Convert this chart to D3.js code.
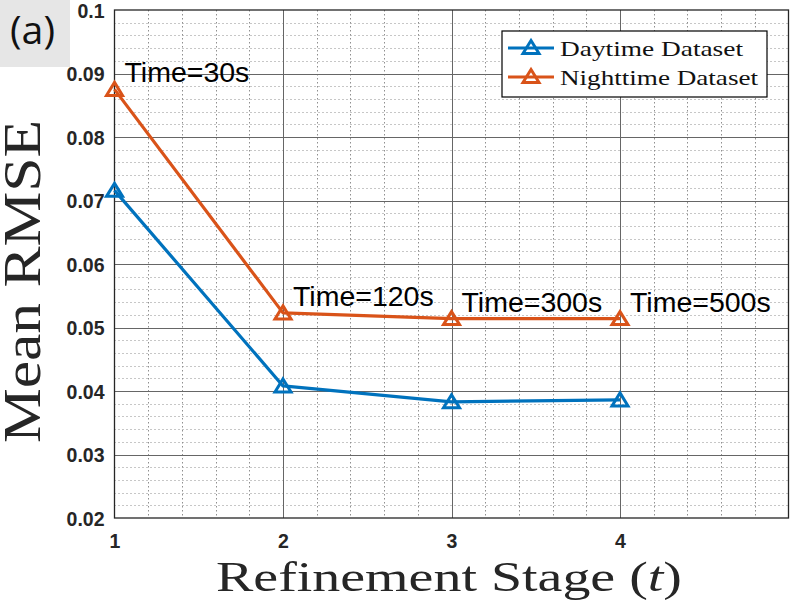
<!DOCTYPE html>
<html>
<head>
<meta charset="utf-8">
<script src="https://cdn.jsdelivr.net/npm/d3@7"></script>
<style>
  html, body { margin: 0; padding: 0; background: #fff; }
  svg { display: block; }
</style>
</head>
<body>
<svg id="chart" width="801" height="612"></svg>
<script>
// ---- data ----
const stages = [1, 2, 3, 4];
const daytime = [0.0716, 0.0408, 0.0383, 0.0386];
const nighttime = [0.0875, 0.0523, 0.0514, 0.0514];
const timeLabels = ["Time=30s", "Time=120s", "Time=300s", "Time=500s"];
const xTicks = [1, 2, 3, 4];
const yTicks = [0.02, 0.03, 0.04, 0.05, 0.06, 0.07, 0.08, 0.09, 0.1];
const seriesNames = ["Daytime Dataset", "Nighttime Dataset"];
const seriesColors = ["#0072BD", "#D95319"];

// ---- layout ----
const svg = d3.select("#chart");
const L = 114.5, R = 788.5, T = 10, B = 518;
const x = d3.scaleLinear().domain([1, 5]).range([L, R]);
const y = d3.scaleLinear().domain([0.02, 0.1]).range([B, T]);

// "(a)" panel tag
svg.append("rect").attr("x", 0).attr("y", 0).attr("width", 70).attr("height", 67).attr("fill", "#e6e6e6");
svg.append("text").attr("x", 32.5).attr("y", 44).attr("text-anchor", "middle")
  .attr("font-family", "Open Sans").attr("font-size", 38).attr("fill", "#111")
  .attr("textLength", 45).attr("lengthAdjust", "spacingAndGlyphs").text("(a)");

// plot background
svg.append("rect").attr("x", L).attr("y", T).attr("width", R - L).attr("height", B - T).attr("fill", "#fff");

// minor grid
const gGrid = svg.append("g");
const xMinor = d3.range(1, 5.0001, 0.2).filter(v => Math.abs(v - Math.round(v)) > 1e-6);
const yMinor = d3.range(0.02, 0.1001, 0.002).filter(v => Math.abs(v * 100 - Math.round(v * 100)) > 1e-6);
gGrid.selectAll(".xm").data(xMinor).join("line")
  .attr("x1", d => Math.round(x(d)) + 0.5).attr("x2", d => Math.round(x(d)) + 0.5)
  .attr("y1", T).attr("y2", B)
  .attr("stroke", "#8f8f8f").attr("stroke-width", 1).attr("stroke-dasharray", "1.5,2.5");
gGrid.selectAll(".ym").data(yMinor).join("line")
  .attr("y1", d => Math.round(y(d)) + 0.5).attr("y2", d => Math.round(y(d)) + 0.5)
  .attr("x1", L).attr("x2", R)
  .attr("stroke", "#8f8f8f").attr("stroke-width", 1).attr("stroke-dasharray", "1,3");

// major grid
const xMajor = [2, 3, 4];
gGrid.selectAll(".xM").data(xMajor).join("line")
  .attr("x1", d => Math.round(x(d)) + 0.5).attr("x2", d => Math.round(x(d)) + 0.5)
  .attr("y1", T).attr("y2", B)
  .attr("stroke", "#666").attr("stroke-width", 1);
gGrid.selectAll(".yM").data(yTicks.slice(1, -1)).join("line")
  .attr("y1", d => Math.round(y(d)) + 0.5).attr("y2", d => Math.round(y(d)) + 0.5)
  .attr("x1", L).attr("x2", R)
  .attr("stroke", "#666").attr("stroke-width", 1);

// axes box
svg.append("rect").attr("x", L).attr("y", T).attr("width", R - L).attr("height", B - T)
  .attr("fill", "none").attr("stroke", "#262626").attr("stroke-width", 1.3);

// axes via d3
const xAxis = d3.axisBottom(x).tickValues(xTicks).tickFormat(d3.format("d")).tickSize(0).tickPadding(16);
const yAxis = d3.axisLeft(y).tickValues(yTicks).tickFormat(d => d === 0.1 ? "0.1" : d3.format(".2f")(d)).tickSize(0).tickPadding(10);
const gx = svg.append("g").attr("transform", `translate(0,${B})`).call(xAxis);
const gy = svg.append("g").attr("transform", `translate(${L},0)`).call(yAxis);
[gx, gy].forEach(g => {
  g.select(".domain").remove();
  g.selectAll("text").attr("font-family", "Liberation Sans, Arial, sans-serif")
    .attr("font-weight", "bold").attr("font-size", 19.5).attr("fill", "#262626");
});
gx.selectAll("text").attr("dy", "0.71em");
gy.selectAll("text").attr("dy", "0.36em");

// series
const series = [daytime, nighttime];
const lineGen = d3.line().x((d, i) => x(stages[i])).y(d => y(d));
const tri = "M0,-7.5 L8,5.5 L-8,5.5 Z";
series.forEach((vals, si) => {
  const g = svg.append("g");
  g.append("path").datum(vals).attr("d", lineGen)
    .attr("fill", "none").attr("stroke", seriesColors[si]).attr("stroke-width", 3.2)
    .attr("stroke-linejoin", "round");
  g.selectAll("path.m").data(vals).join("path").attr("class", "m")
    .attr("d", tri)
    .attr("transform", (d, i) => `translate(${x(stages[i])},${y(d) + 0.5})`)
    .attr("fill", "none").attr("stroke", seriesColors[si]).attr("stroke-width", 3);
});

// annotations
svg.selectAll("text.ann").data(nighttime).join("text").attr("class", "ann")
  .attr("x", (d, i) => x(stages[i]) + 10)
  .attr("y", (d, i) => y(d) - 7)
  .attr("font-family", "Liberation Sans, Arial, sans-serif").attr("font-size", 28.5).attr("fill", "#000")
  .text((d, i) => timeLabels[i]);

// legend
const lg = svg.append("g");
lg.append("rect").attr("x", 502).attr("y", 31).attr("width", 265).attr("height", 66)
  .attr("fill", "#fff").attr("stroke", "#000").attr("stroke-width", 1.2);
const legendW = [183, 198];
seriesNames.forEach((name, i) => {
  const cy = 48 + i * 29;
  lg.append("line").attr("x1", 508).attr("x2", 554).attr("y1", cy).attr("y2", cy)
    .attr("stroke", seriesColors[i]).attr("stroke-width", 3.2);
  lg.append("path").attr("d", tri).attr("transform", `translate(531,${cy})`)
    .attr("fill", "none").attr("stroke", seriesColors[i]).attr("stroke-width", 3);
  lg.append("text").attr("x", 560).attr("y", cy + 7.5)
    .attr("font-family", "Liberation Serif, serif").attr("font-size", 22).attr("fill", "#111")
    .attr("textLength", legendW[i]).attr("lengthAdjust", "spacingAndGlyphs")
    .text(name);
});

// axis labels
svg.append("text")
  .attr("transform", "translate(40,281.5) rotate(-90)")
  .attr("text-anchor", "middle")
  .attr("font-family", "Liberation Serif, serif").attr("font-size", 53).attr("fill", "#262626")
  .attr("textLength", 323).attr("lengthAdjust", "spacingAndGlyphs")
  .text("Mean RMSE");

const xl = svg.append("text").attr("x", 216).attr("y", 591)
  .attr("font-family", "Liberation Serif, serif").attr("font-size", 42).attr("fill", "#262626")
  .attr("textLength", 466).attr("lengthAdjust", "spacingAndGlyphs");
xl.append("tspan").text("Refinement Stage (");
xl.append("tspan").attr("font-style", "italic").text("t");
xl.append("tspan").text(")");
</script>
</body>
</html>
